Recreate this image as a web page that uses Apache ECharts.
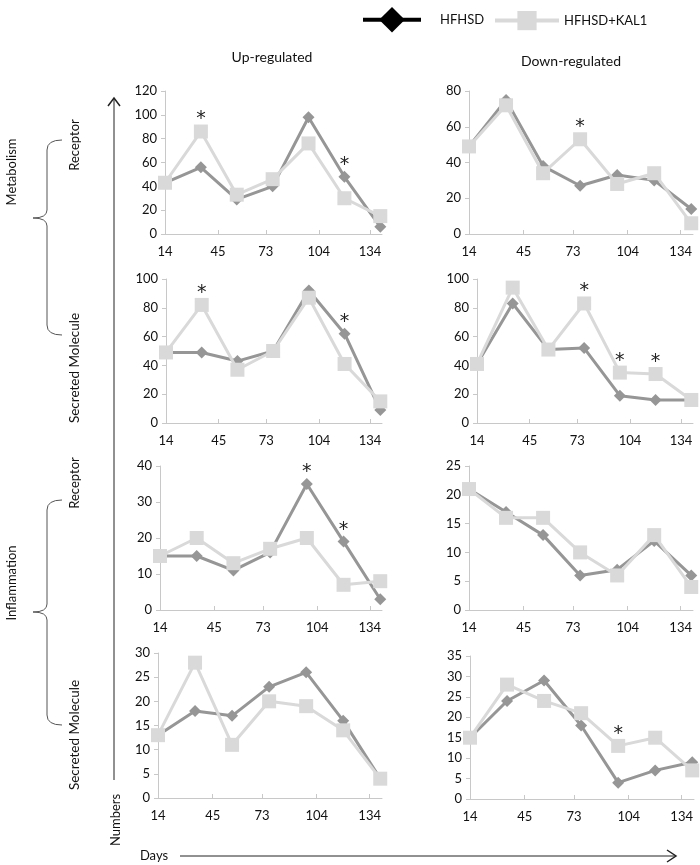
<!DOCTYPE html>
<html><head><meta charset="utf-8">
<script src="https://cdn.jsdelivr.net/npm/echarts@6/dist/echarts.min.js"></script>
<style>html,body{margin:0;padding:0;background:#fff}#c{width:700px;height:865px}</style>
</head><body><div id="c"></div>
<script>
// ---- data ----
const days = [14, 35, 56, 77, 98, 119, 140];
const dayTicks = [14, 45, 73, 104, 134];
const seriesNames = ['HFHSD', 'HFHSD+KAL1'];
const colTitles = ['Up-regulated', 'Down-regulated'];
const rowLabels = ['Receptor', 'Secreted Molecule', 'Receptor', 'Secreted Molecule'];
const groupLabels = ['Metabolism', 'Inflammation'];

const metRecUpHFHSD   = [43, 56, 29, 40, 98, 48, 6];
const metRecUpKAL1    = [43, 86, 33, 46, 76, 30, 15];
const metRecDownHFHSD = [49, 75, 38, 27, 33, 30, 14];
const metRecDownKAL1  = [49, 72, 34, 53, 28, 34, 6];
const metSecUpHFHSD   = [49, 49, 43, 50, 92, 62, 9];
const metSecUpKAL1    = [49, 82, 37, 50, 87, 41, 15];
const metSecDownHFHSD = [41, 83, 51, 52, 19, 16, 16];
const metSecDownKAL1  = [41, 94, 51, 83, 35, 34, 16];
const infRecUpHFHSD   = [15, 15, 11, 16, 35, 19, 3];
const infRecUpKAL1    = [15, 20, 13, 17, 20, 7, 8];
const infRecDownHFHSD = [21, 17, 13, 6, 7, 12, 6];
const infRecDownKAL1  = [21, 16, 16, 10, 6, 13, 4];
const infSecUpHFHSD   = [13, 18, 17, 23, 26, 16, 4];
const infSecUpKAL1    = [13, 28, 11, 20, 19, 14, 4];
const infSecDownHFHSD = [15, 24, 29, 18, 4, 7, 9];
const infSecDownKAL1  = [15, 28, 24, 21, 13, 15, 7];

// significance (*) days per panel
const starsHFHSD = [[119], [], [119], [], [98, 119], [], [], []];
const starsKAL1  = [[35], [77], [35], [77, 98, 119], [], [], [], [98]];

const yMax  = [120, 80, 100, 100, 40, 25, 30, 35];
const yStep = [20, 20, 20, 20, 10, 5, 5, 5];

// ---- layout ----
const panels = [
  [metRecUpHFHSD, metRecUpKAL1], [metRecDownHFHSD, metRecDownKAL1],
  [metSecUpHFHSD, metSecUpKAL1], [metSecDownHFHSD, metSecDownKAL1],
  [infRecUpHFHSD, infRecUpKAL1], [infRecDownHFHSD, infRecDownKAL1],
  [infSecUpHFHSD, infSecUpKAL1], [infSecDownHFHSD, infSecDownKAL1]
];
const gridBoxes = [
  [165, 91, 217, 143], [469, 91, 224, 143],
  [166, 279, 216, 144], [477, 279, 216, 144],
  [160, 466, 222, 144], [469, 466, 224, 144],
  [158, 653, 224, 145], [470, 656, 224, 143]
];
const FONT = 'Lato';
const AX = '#c8c8c8';
const DARK = '#969696';
const LIGHT = '#d9d9d9';

const grid = [], xAxis = [], yAxis = [], series = [];
panels.forEach((p, i) => {
  const b = gridBoxes[i];
  grid.push({left: b[0], top: b[1], width: b[2], height: b[3], containLabel: false});
  xAxis.push({
    type: 'value', gridIndex: i, min: 14, max: 141,
    axisLine: {show: true, lineStyle: {color: AX, width: 1}},
    axisTick: {show: true, inside: true, length: 4, lineStyle: {color: AX}, customValues: dayTicks},
    axisLabel: {show: true, customValues: dayTicks, margin: 11, fontSize: 13, fontFamily: FONT, color: '#111'},
    splitLine: {show: false}
  });
  yAxis.push({
    type: 'value', gridIndex: i, min: 0, max: yMax[i], interval: yStep[i],
    axisLine: {show: true, lineStyle: {color: AX, width: 1}},
    axisTick: {show: true, inside: false, length: 4, lineStyle: {color: AX}},
    axisLabel: {margin: 8, fontSize: 13, fontFamily: FONT, color: '#111'},
    splitLine: {show: false}
  });
  const stars = [starsHFHSD[i], starsKAL1[i]];
  [0, 1].forEach(k => {
    const data = days.map((d, j) => {
      const item = {value: [d, p[k][j]]};
      if (stars[k].indexOf(d) >= 0) {
        item.label = {show: true};
      }
      return item;
    });
    series.push({
      type: 'line', name: seriesNames[k], xAxisIndex: i, yAxisIndex: i,
      data: data,
      symbol: k === 0 ? 'diamond' : 'rect',
      symbolSize: k === 0 ? 12 : 14,
      showAllSymbol: true,
      lineStyle: {color: k === 0 ? DARK : LIGHT, width: 3},
      itemStyle: {color: k === 0 ? DARK : LIGHT},
      emphasis: {disabled: true},
      animation: false,
      z: k === 0 ? 2 : 3,
      label: {show: false, position: 'inside', offset: [0, -12], formatter: '*',
              fontSize: 19, fontFamily: 'DejaVu Sans', color: '#222'}
    });
  });
});

function vtext(x, y, t, size) {
  return {type: 'text', x: x, y: y, rotation: Math.PI / 2,
    style: {text: t, fontSize: size || 13, fontFamily: FONT, fill: '#111', align: 'center', verticalAlign: 'middle'}};
}
function brace(x0, yTop, yTip, yBot) {
  const s = 47, tip = 33;
  const st = {stroke: '#555', lineWidth: 1, fill: null};
  return [
    {type: 'bezierCurve', shape: {x1: x0, y1: yTop, x2: s, y2: yTop + 10, cpx1: s, cpy1: yTop}, style: st},
    {type: 'line', shape: {x1: s, y1: yTop + 10, x2: s, y2: yTip - 8}, style: st},
    {type: 'bezierCurve', shape: {x1: s, y1: yTip - 8, x2: tip, y2: yTip, cpx1: s, cpy1: yTip}, style: st},
    {type: 'bezierCurve', shape: {x1: tip, y1: yTip, x2: s, y2: yTip + 8, cpx1: s, cpy1: yTip}, style: st},
    {type: 'line', shape: {x1: s, y1: yTip + 8, x2: s, y2: yBot - 10}, style: st},
    {type: 'bezierCurve', shape: {x1: s, y1: yBot - 10, x2: x0, y2: yBot, cpx1: s, cpy1: yBot}, style: st}
  ];
}

const graphic = [
  {type: 'text', x: 272, y: 57, style: {text: colTitles[0], fontSize: 14, fontFamily: FONT, fill: '#111', align: 'center', verticalAlign: 'middle'}},
  {type: 'text', x: 571, y: 61, style: {text: colTitles[1], fontSize: 14, fontFamily: FONT, fill: '#111', align: 'center', verticalAlign: 'middle'}},
  vtext(75, 145, rowLabels[0]),
  vtext(75, 368, rowLabels[1], 13.5),
  vtext(75, 483, rowLabels[2]),
  vtext(75, 735, rowLabels[3], 13.5),
  vtext(12, 172, groupLabels[0]),
  vtext(12, 583, groupLabels[1]),
  ...brace(62, 140, 218, 335),
  ...brace(62, 500, 612, 725),
  // Numbers axis (vertical arrow)
  {type: 'line', shape: {x1: 114, y1: 98, x2: 114, y2: 780}, style: {stroke: '#222', lineWidth: 1}},
  {type: 'polyline', shape: {points: [[108, 106], [114, 98], [120, 106]]}, style: {stroke: '#222', lineWidth: 1.5, fill: null}},
  vtext(116, 820, 'Numbers'),
  // Days axis (horizontal arrow)
  {type: 'text', x: 154, y: 856, style: {text: 'Days', fontSize: 13, fontFamily: FONT, fill: '#111', align: 'center', verticalAlign: 'middle'}},
  {type: 'line', shape: {x1: 180, y1: 856, x2: 676, y2: 856}, style: {stroke: '#222', lineWidth: 1}},
  {type: 'polyline', shape: {points: [[667, 850], [676, 856], [667, 862]]}, style: {stroke: '#222', lineWidth: 1.5, fill: null}}
];

const legend = [
  {left: 356, top: 2, itemWidth: 58, itemHeight: 32, selectedMode: false,
   data: [{name: seriesNames[0], itemStyle: {color: '#000'}, lineStyle: {color: '#000', width: 4}}],
   textStyle: {fontSize: 13, fontFamily: FONT, color: '#111', padding: [0, 0, 0, 14]}},
  {left: 488, top: 6, itemWidth: 64, itemHeight: 24, selectedMode: false,
   data: [{name: seriesNames[1], itemStyle: {color: LIGHT}, lineStyle: {color: LIGHT, width: 4}}],
   textStyle: {fontSize: 13, fontFamily: FONT, color: '#111', padding: [0, 0, 0, 0]}}
];

const chart = echarts.init(document.getElementById('c'), null, {renderer: 'canvas'});
chart.setOption({
  animation: false,
  backgroundColor: '#fff',
  legend: legend,
  grid: grid, xAxis: xAxis, yAxis: yAxis, series: series,
  graphic: graphic
});
</script>
</body></html>
